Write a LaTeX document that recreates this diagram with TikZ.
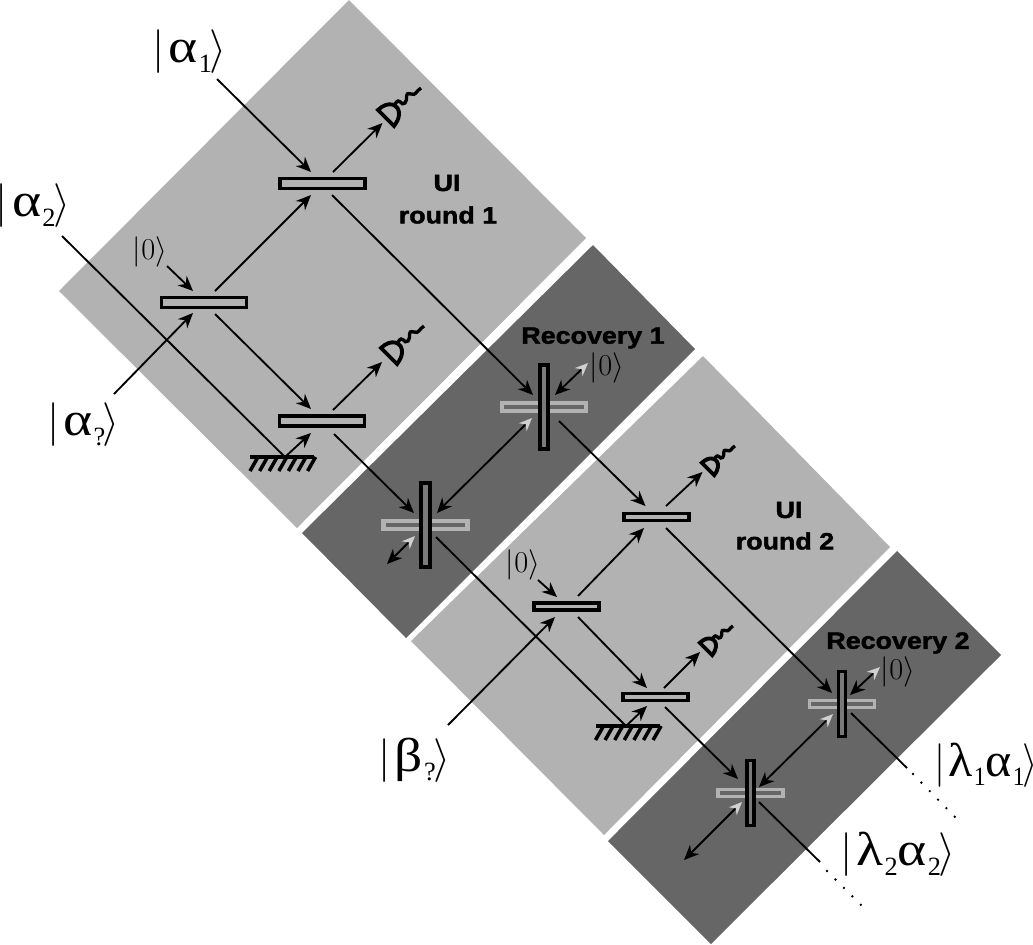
\documentclass[tikz,border=0pt]{standalone}
\usepackage{amssymb,amsmath}
\usepackage{fontspec}
\setmainfont{Liberation Serif}
\newfontfamily\labelfont[BoldFeatures={FakeStretch=1.14,FakeBold=1.8}]{Liberation Sans}
\usepackage{tikz}
\usetikzlibrary{calc,arrows.meta}
\definecolor{lightband}{HTML}{B2B2B2}
\definecolor{darkband}{HTML}{666666}
\definecolor{paletip}{HTML}{D0D0D0}
\definecolor{splitfill}{HTML}{7A7A7A}
\newcommand{\bigket}[1]{$|$\hspace{0.09em}#1\hspace{-0.05em}$\rangle$}
\newcommand{\widegreek}[1]{\scalebox{1.17}[1]{#1}}
\newcommand{\lowsub}[1]{\hspace{0.02em}\raisebox{-0.2em}{\fontsize{15}{15}\selectfont #1}}
\tikzset{
  arrow/.style={-{Stealth[length=15*0.02cm,width=13*0.02cm]},line width=1.05pt},
  both/.style={{Stealth[length=13*0.02cm,width=11*0.02cm,paletip]}-{Stealth[length=15*0.02cm,width=13*0.02cm]},line width=1.05pt},
  beam/.style={line width=1.05pt},
  trail/.style={line width=1.5pt,line cap=round,dash pattern=on 0pt off 6.8pt},
  split/.style={draw=black,line width=1.75pt,inner sep=0pt,minimum width=1.7cm,minimum height=0.2cm},
  splitup/.style={draw=black,line width=2.3pt,inner sep=0pt,minimum width=1.68cm,minimum height=0.17cm,rotate=90,fill=splitfill},
  splitpale/.style={splitup,draw=lightband,rotate=-90,fill=none},
  small/.style={draw=black,line width=1.85pt,inner sep=0pt,minimum width=1.3cm,minimum height=0.14cm},
  smallup/.style={small,rotate=90,fill=splitfill},
  smallpale/.style={small,draw=lightband,line width=2.1pt},
  bigstate/.style={inner sep=0pt,font=\fontsize{27}{27}\selectfont},
  zerostate/.style={inner sep=0pt,font=\fontsize{17}{17}\selectfont},
  title/.style={inner sep=0pt,font=\labelfont\bfseries\fontsize{13.4}{13.4}\selectfont,text=black},
  detector/.pic={
    \draw [line width=2.2pt, line join=miter] (-8,-8) .. controls (2,-18) and (14,-14) .. (13,-3) .. controls (12.5,1) and (11,4) .. (8,8) -- cycle;
    \draw [line width=1.9pt] (9,-14) .. controls (14,-22) and (15,-11) .. (19,-15) .. controls (23,-19) and (17,-26) .. (25,-24) .. controls (30,-22) and (30,-27) .. (35,-30);
  },
  mirror/.pic={
    \draw [line width=2.1pt] (-32,0) -- (32,0);
    \foreach \i in {0,...,6} {
      \draw [line width=2pt] (-24+\i*9.6,0) -- (-32+\i*9.6,14);
    }
  }
}
\begin{document}
\begin{tikzpicture}[x=0.02cm,y=-0.02cm]
  \useasboundingbox (0,0) rectangle (1033,944);
  % bands
  \fill [lightband] (349,0) -- (586,238) -- (297,528) -- (59,291) -- cycle;
  \fill [darkband] (593,245) -- (695,349) -- (406,638) -- (302,533) -- cycle;
  \fill [lightband] (703,356) -- (890,547) -- (604,835) -- (411,641) -- cycle;
  \fill [darkband] (897,551) -- (1001,655) -- (711,944) -- (608,841) -- cycle;

  \node [title] (uia) at (447,183) {UI};
  \node [title] (rounda) at (448,215) {round 1};
  \node [title] (reca) at (593,338) {Recovery 1};
  \node [title] (uib) at (789,510) {UI};
  \node [title] (roundb) at (785,541) {round 2};
  \node [title] (recb) at (898,643) {Recovery 2};

  % round 1
  \node [split] (bsa) at (322.5,183.5) {};
  \node [split] (bsb) at (204,302.5) {};
  \node [split] (bsc) at (322,421) {};
  \node [splitpale] (pa) at (544,407) {};
  \node [splitup] (va) at (544,407) {};
  \node [splitpale] (pb) at (425.5,525) {};
  \node [splitup] (vb) at (425.5,525) {};
  \pic at (386,118) {detector};
  \pic at (389,356) {detector};
  \coordinate (mira) at (285,457);
  \pic at ($(mira)+(-3,0)$) {mirror};

  \node [bigstate] (ketaone) at (189.5,52) {\bigket{\widegreek{α}\lowsub{1}}};
  \node [bigstate] (ketatwo) at (33,206) {\bigket{\widegreek{α}\lowsub{2}}};
  \node [bigstate] (ketaq) at (83.5,425) {\bigket{\widegreek{α}\lowsub{?}}};
  \node [zerostate] (zeroa) at (150,252) {$|0\rangle$};
  \node [zerostate] (zerob) at (607,368) {$|0\rangle$};

  \draw [arrow] ($(ketaone)+(27.5,27)$) -- ($(bsa)+(-11.5,-11.5)$);
  \draw [arrow] ($(bsa)+(10.5,-11.5)$) -- ($(bsa)+(60,-60.5)$);
  \draw [arrow] ($(bsb)+(11,-11.5)$) -- ($(bsa)+(-11.5,11.5)$);
  \draw [arrow] ($(zeroa)+(17,14)$) -- ($(bsb)+(-11,-11.5)$);
  \draw [arrow] ($(ketaq)+(30.5,-31)$) -- ($(bsb)+(-11,10.5)$);
  \draw [arrow] ($(bsb)+(11,11.5)$) -- ($(bsc)+(-11,-12)$);
  \draw [arrow] ($(bsc)+(11,-11)$) -- ($(bsc)+(60,-59)$);
  \draw [beam] ($(ketatwo)+(29,30)$) -- (mira);
  \draw [arrow] (mira) -- ($(bsc)+(-11,12)$);
  \draw [arrow] ($(bsa)+(9.5,11.5)$) -- ($(va)+(-11,-12)$);
  \draw [arrow] ($(bsc)+(12,13)$) -- ($(vb)+(-11.5,-12)$);
  \draw [both] ($(va)+(-12,11)$) -- ($(vb)+(11.5,-12)$);
  \draw [both] ($(zerob)+(-19,-5)$) -- ($(va)+(11,-12)$);
  \draw [both] ($(vb)+(-10.5,11)$) -- ($(vb)+(-38.5,39)$);

  % round 2
  \node [small] (bsd) at (656.5,517) {};
  \node [small] (bse) at (566.5,606.5) {};
  \node [small] (bsf) at (655.5,697) {};
  \node [smallpale] (pc) at (842,704) {};
  \node [smallup] (vc) at (842,704) {};
  \node [smallpale] (pd) at (750.5,793) {};
  \node [smallup] (vd) at (750.5,793) {};
  \pic [scale=0.77] at (708,469) {detector};
  \pic [scale=0.77] at (706,649) {detector};
  \coordinate (mirb) at (626,726);
  \pic at ($(mirb)+(1.5,0)$) {mirror};

  \node [bigstate] (ketb) at (414.5,760) {\bigket{\widegreek{β}\lowsub{?}}};
  \node [zerostate] (zeroc) at (523,565) {$|0\rangle$};
  \node [zerostate] (zerod) at (898,672) {$|0\rangle$};
  \node [bigstate] (ketl) at (986,765) {\scalebox{0.9}[1]{\bigket{\widegreek{λ}\lowsub{1}\widegreek{α}\lowsub{1}}}};
  \node [bigstate] (ketm) at (898,854.5) {\bigket{\widegreek{λ}\lowsub{2}\widegreek{α}\lowsub{2}}};
  \coordinate (enda) at (907,768);
  \coordinate (endb) at (820,862);

  \draw [arrow] ($(va)+(15,14)$) -- ($(bsd)+(-11,-11)$);
  \draw [arrow] ($(bsd)+(9.5,-11)$) -- ($(bsd)+(46,-45)$);
  \draw [arrow] ($(bse)+(11.5,-10.5)$) -- ($(bsd)+(-12.5,11)$);
  \draw [arrow] ($(zeroc)+(15,15)$) -- ($(bse)+(-9.5,-9.5)$);
  \draw [arrow] ($(ketb)+(33.5,-35)$) -- ($(bse)+(-11.5,10.5)$);
  \draw [arrow] ($(bse)+(11.5,10.5)$) -- ($(bsf)+(-8.5,-9)$);
  \draw [arrow] ($(bsf)+(8.5,-9)$) -- ($(bsf)+(44.5,-45)$);
  \draw [beam] ($(vb)+(10.5,12)$) -- (mirb);
  \draw [arrow] (mirb) -- ($(bsf)+(-8.5,9)$);
  \draw [arrow] ($(bsd)+(9.5,11)$) -- ($(vc)+(-10,-11)$);
  \draw [arrow] ($(bsf)+(9.5,10)$) -- ($(vd)+(-12.5,-14)$);
  \draw [both] ($(vc)+(-9,10)$) -- ($(vd)+(8.5,-6)$);
  \draw [both] ($(zerod)+(-18,-5)$) -- ($(vc)+(8,-9)$);
  \draw [both] ($(vd)+(-8.5,9)$) -- ($(vd)+(-66.5,67)$);
  \draw [beam] ($(vc)+(9,9)$) -- (enda);
  \draw [beam] ($(vd)+(8.5,9)$) -- (endb);
  \draw [trail] ($(enda)+(6,6)$) -- ($(enda)+(48,49)$);
  \draw [trail] ($(endb)+(7,9)$) -- ($(endb)+(42,44)$);
\end{tikzpicture}
\end{document}
